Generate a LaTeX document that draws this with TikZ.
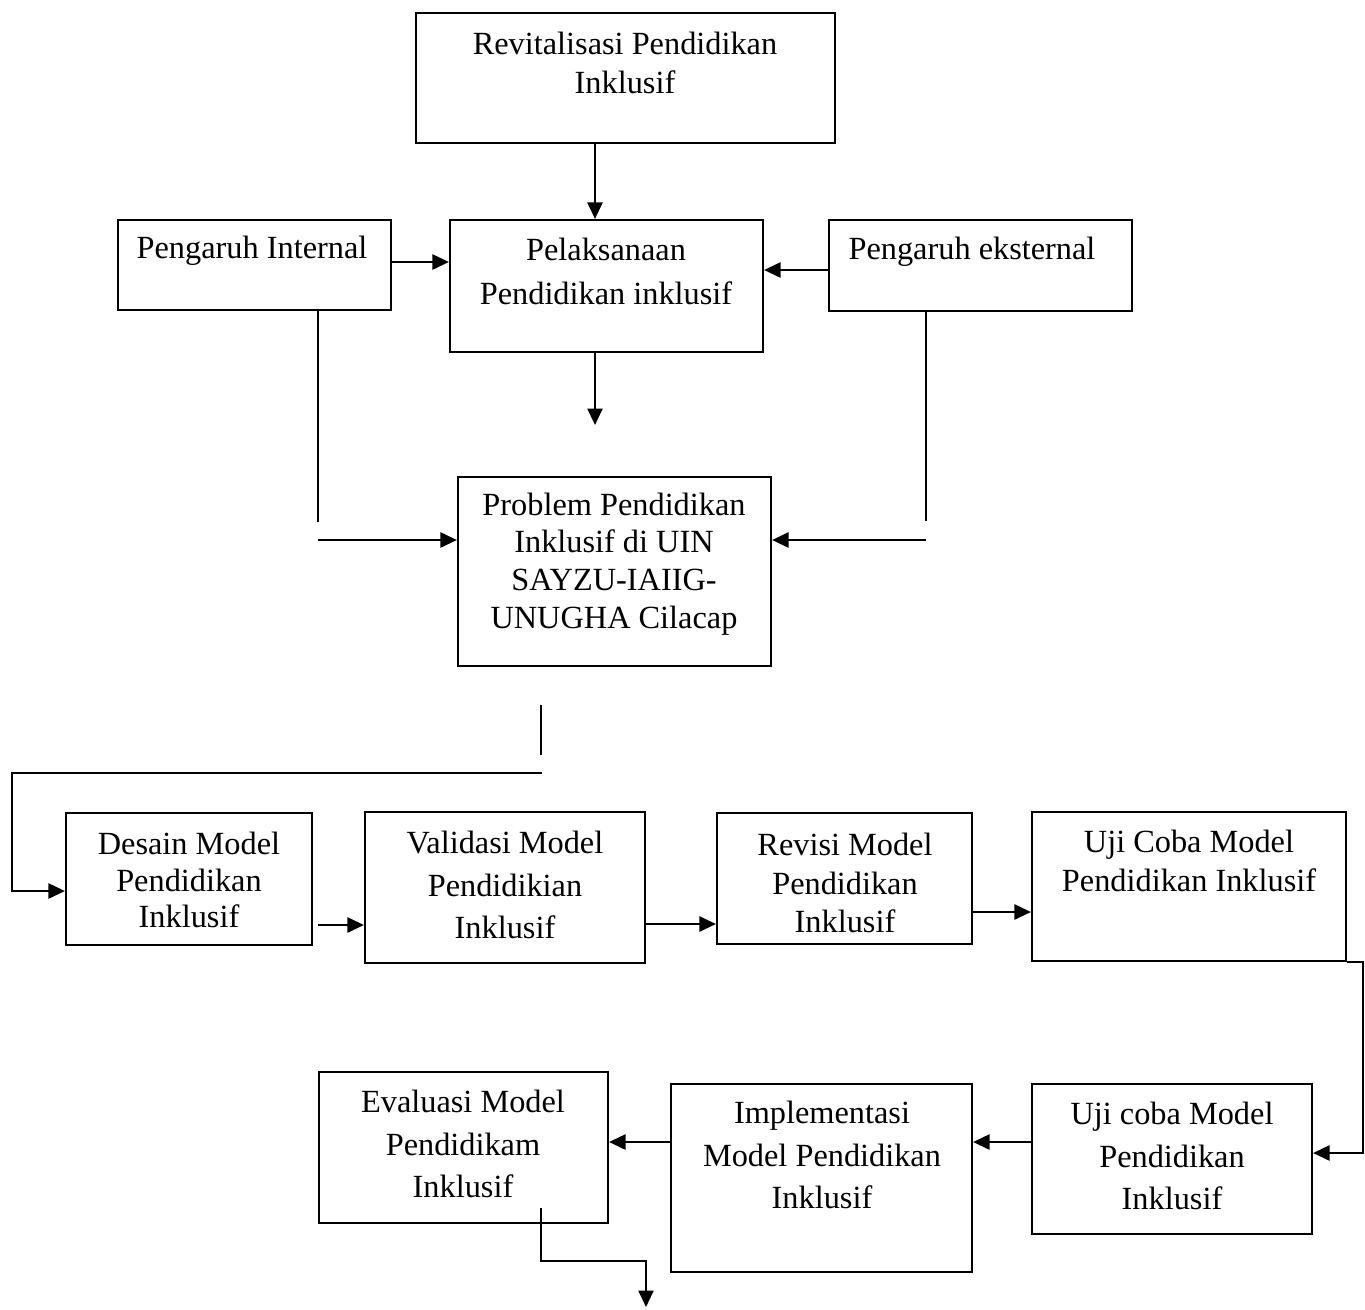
\documentclass[tikz,border=0pt]{standalone}
\usepackage{fontspec}
\setmainfont{Liberation Serif}
\usetikzlibrary{positioning,fit,calc,arrows.meta}
\tikzset{>={Triangle[length=0.33cm,width=0.3cm]}}
\tikzset{
  kotak/.style={draw,line width=1.2pt,inner sep=0pt,fit={#1}},
  teks/.style={align=center,inner sep=0pt,font=\fontsize{18.4}{#1}\selectfont},
  teks/.default=22pt,
  garis/.style={line width=1.4pt},
}

\begin{document}
\begin{tikzpicture}[x=0.02cm,y=-0.02cm]
\useasboundingbox (0,0) rectangle (1365,1309);
% kotak bagian atas
\node[kotak={(416,13) (835,143)}] (revit) {};
\node[teks] (revit-t) at (625,63) {Revitalisasi Pendidikan\\Inklusif};
\node[kotak={(118,220) (391,310)}] (int) {};
\node[teks] (int-t) at (252,251) {Pengaruh Internal};
\node[kotak={(450,220) (763,352)}] (pel) {};
\node[teks=25pt] (pel-t) at (606,271) {Pelaksanaan\\Pendidikan inklusif};
\node[kotak={(829,220) (1132,311)}] (ext) {};
\node[teks] (ext-t) at (972,252) {Pengaruh eksternal};
\node[kotak={(458,477) (771,666)}] (prob) {};
\node[teks=21.5pt] (prob-t) at (614,564) {Problem Pendidikan\\Inklusif di UIN\\SAYZU-IAIIG-\\UNUGHA Cilacap};
% kotak baris tengah
\node[kotak={(66,813) (312,945)}] (desain) {};
\node[teks=21pt] (desain-t) at (189,880) {Desain Model\\Pendidikan\\Inklusif};
\node[kotak={(365,812) (645,963)}] (valid) {};
\node[teks=24pt] (valid-t) at (505,885) {Validasi Model\\Pendidikian\\Inklusif};
\node[kotak={(717,813) (972,944)}] (revisi) {};
\node[teks] (revisi-t) at (845,883) {Revisi Model\\Pendidikan\\Inklusif};
\node[kotak={(1032,812) (1346,961)}] (uji1) {};
\node[teks] (uji1-t) at (1189,861) {Uji Coba Model\\Pendidikan Inklusif};
% kotak baris bawah
\node[kotak={(1032,1084) (1312,1234)}] (uji2) {};
\node[teks=24pt] (uji2-t) at (1172,1156) {Uji coba Model\\Pendidikan\\Inklusif};
\node[kotak={(671,1084) (972,1272)}] (impl) {};
\node[teks=24pt] (impl-t) at (822,1155) {Implementasi\\Model Pendidikan\\Inklusif};
\node[kotak={(319,1072) (608,1223)}] (eval) {};
\node[teks=24pt] (eval-t) at (463,1144) {Evaluasi Model\\Pendidikam\\Inklusif};

\coordinate (x1) at (595,0);
\coordinate (y1) at (0,262);
\coordinate (y2) at (0,270);
\coordinate (pel-end) at (595,425);
\draw[garis,->] (revit.south -| x1) -- (pel.north -| x1);
\draw[garis,->] (int.east |- y1) -- (pel.west |- y1);
\draw[garis,->] (ext.west |- y2) -- (pel.east |- y2);
\draw[garis,->] (pel.south -| pel-end) -- (pel-end);

\coordinate (int-v) at (318,522);
\coordinate (int-h) at (318,540);
\coordinate (ext-v) at (926,521);
\coordinate (ext-h) at (926,540);
\draw[garis] (int.south -| int-v) -- (int-v);
\draw[garis,->] (int-h) -- (prob.west |- int-h);
\draw[garis] (ext.south -| ext-v) -- (ext-v);
\draw[garis,->] (ext-h) -- (prob.east |- ext-h);

\coordinate (p1) at (541,705);
\coordinate (p2) at (541,755);
\coordinate (p3) at (542,773);
\coordinate (kiri) at (12,891);
\draw[garis] (p1) -- (p2);
\draw[garis,->] (p3) -| (kiri) -- (desain.west |- kiri);

\coordinate (dv) at (318,925);
\coordinate (vr) at (0,924);
\coordinate (ru) at (0,912);
\draw[garis,->] (dv) -- (valid.west |- dv);
\draw[garis,->] (valid.east |- vr) -- (revisi.west |- vr);
\draw[garis,->] (revisi.east |- ru) -- (uji1.west |- ru);

\coordinate (kanan) at (1363,1153);
\coordinate (ui) at (0,1142);
\draw[garis,->] (uji1.south east) -| (kanan) -- (uji2.east |- kanan);
\draw[garis,->] (uji2.west |- ui) -- (impl.east |- ui);
\draw[garis,->] (impl.west |- ui) -- (eval.east |- ui);

\coordinate (e1) at (541,1208);
\coordinate (e2) at (646,1307);
\draw[garis,->] (e1) -- ++(0,53) -| (e2);
\end{tikzpicture}
\end{document}
